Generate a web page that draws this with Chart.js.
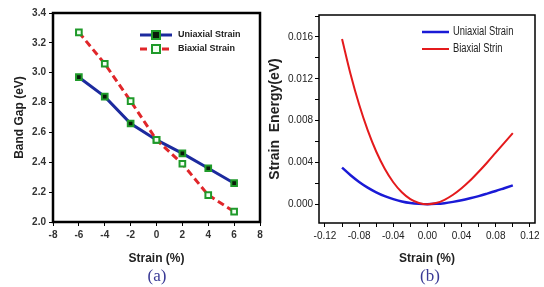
<!DOCTYPE html>
<html>
<head>
<meta charset="utf-8">
<script src="https://cdn.jsdelivr.net/npm/chart.js@4.4.1/dist/chart.umd.min.js"></script>
<style>
  body { margin: 0; background: #fff; width: 544px; height: 287px; position: relative; overflow: hidden; }
  .pane { position: absolute; top: 0; }
  #paneA { left: 0; }
  #paneB { left: 266px; }
  .cap { position: absolute; top: 266px; width: 40px; text-align: center;
         font: 17px "Liberation Serif", "Times New Roman", serif; color: #3a3a96; }
</style>
</head>
<body>
<div class="pane" id="paneA"><canvas id="chartA" width="272" height="270"></canvas></div>
<div class="pane" id="paneB"><canvas id="chartB" width="278" height="270"></canvas></div>
<div class="cap" style="left:137px">(a)</div>
<div class="cap" style="left:410px">(b)</div>
<script>
// (a) band gap vs strain
const strainA = [-6, -4, -2, 0, 2, 4, 6];
const uniaxialGap = [2.97, 2.84, 2.66, 2.55, 2.46, 2.36, 2.26];
const biaxialGap = [3.27, 3.06, 2.81, 2.55, 2.39, 2.18, 2.07];
const ticksA_x = [-8, -6, -4, -2, 0, 2, 4, 6, 8];

// (b) strain energy vs strain
const strainB = [-0.10, -0.09, -0.08, -0.07, -0.06, -0.05, -0.04, -0.03, -0.02, -0.01, 0,
                 0.01, 0.02, 0.03, 0.04, 0.05, 0.06, 0.07, 0.08, 0.09, 0.10];
const uniaxialEnergy = [0.0035, 0.00277, 0.00213, 0.00159, 0.00114, 0.00077, 0.00048, 0.00026, 0.00011, 0.00003, 0,
                        0.00003, 0.0001, 0.00022, 0.00037, 0.00056, 0.00077, 0.00101, 0.00126, 0.00153, 0.0018];
const biaxialEnergy = [0.0158, 0.01243, 0.00953, 0.00708, 0.00504, 0.00339, 0.0021, 0.00114, 0.00049, 0.00012, 0,
                       0.00011, 0.00042, 0.0009, 0.00152, 0.00226, 0.0031, 0.00399, 0.00493, 0.00587, 0.0068];
const ticksB_x = [-0.12, -0.08, -0.04, 0, 0.04, 0.08, 0.12];
const minorB_x = [-0.10, -0.06, -0.02, 0.02, 0.06, 0.10];
const ticksB_y = [0, 0.004, 0.008, 0.012, 0.016];
const minorB_y = [0.002, 0.006, 0.010, 0.014, 0.018];

const SANS = "'Liberation Sans', Arial, sans-serif";

// black box round the plot area
const framePlugin = {
  id: 'frame',
  afterDraw(chart, args, opts) {
    const a = chart.chartArea, ctx = chart.ctx;
    ctx.save();
    ctx.strokeStyle = '#000';
    ctx.lineWidth = opts.width;
    ctx.strokeRect(a.left, a.top, a.right - a.left, a.bottom - a.top);
    ctx.restore();
  }
};

// legend drawn inside the plot
const boxLegend = {
  id: 'boxLegend',
  afterDatasetsDraw(chart, args, o) {
    const ctx = chart.ctx;
    chart.data.datasets.forEach((ds, i) => {
      const y = o.y + i * o.gap;
      ctx.save();
      ctx.strokeStyle = ds.borderColor;
      ctx.lineWidth = ds.borderWidth;
      ctx.setLineDash(ds.borderDash || []);
      ctx.beginPath();
      ctx.moveTo(o.x, y);
      ctx.lineTo(o.x + o.len, y);
      ctx.stroke();
      ctx.setLineDash([]);
      if (ds.pointRadius) {
        const r = ds.pointRadius, mx = o.x + o.len / 2;
        ctx.fillStyle = ds.pointBackgroundColor;
        ctx.fillRect(mx - r, y - r, 2 * r, 2 * r);
        ctx.lineWidth = ds.pointBorderWidth;
        ctx.strokeStyle = ds.pointBorderColor;
        ctx.strokeRect(mx - r, y - r, 2 * r, 2 * r);
      }
      ctx.fillStyle = '#222';
      ctx.font = o.font;
      ctx.textBaseline = 'middle';
      ctx.translate(o.x + o.len + o.pad, y);
      ctx.scale(o.sx || 1, 1);
      ctx.fillText(ds.label, 0, 0);
      ctx.restore();
    });
  }
};

new Chart(document.getElementById('chartA'), {
  type: 'line',
  data: {
    datasets: [{
      label: 'Uniaxial Strain',
      data: strainA.map((x, i) => ({ x: x, y: uniaxialGap[i] })),
      borderColor: '#1c2a9e',
      borderWidth: 3,
      pointStyle: 'rect',
      pointRadius: 4,
      pointBackgroundColor: '#0a1a0a',
      pointBorderColor: '#1f9a2a',
      pointBorderWidth: 2,
      order: 1
    }, {
      label: 'Biaxial Strain',
      data: strainA.map((x, i) => ({ x: x, y: biaxialGap[i] })),
      borderColor: '#e0262a',
      borderWidth: 3,
      borderDash: [7, 4],
      pointStyle: 'rect',
      pointRadius: 4,
      pointBackgroundColor: '#f4fff4',
      pointBorderColor: '#1f9a2a',
      pointBorderWidth: 2,
      order: 0
    }]
  },
  options: {
    responsive: false,
    animation: false,
    layout: { padding: { left: 8, top: 13, right: 12, bottom: 0 } },
    plugins: {
      legend: { display: false },
      tooltip: { enabled: false },
      frame: { width: 2.5 },
      boxLegend: { x: 140, y: 35, gap: 14, len: 32, pad: 6, font: 'bold 9px ' + SANS }
    },
    scales: {
      x: {
        type: 'linear', min: -8, max: 8,
        afterBuildTicks: s => { s.ticks = ticksA_x.map(v => ({ value: v })); },
        afterFit: s => { s.height = 48; },
        ticks: { color: '#333', font: { family: SANS, size: 10, weight: 'bold' }, padding: 3 },
        grid: { drawOnChartArea: false, tickLength: 4, color: '#000' },
        border: { display: false },
        title: { display: true, text: 'Strain (%)', color: '#222', font: { family: SANS, size: 12, weight: 'bold' }, padding: { top: 2, bottom: 4 } }
      },
      y: {
        min: 2.0, max: 3.4,
        afterFit: s => { s.width = 45; },
        ticks: { stepSize: 0.2, color: '#333', font: { family: SANS, size: 10, weight: 'bold' }, padding: 3,
                 callback: v => v.toFixed(1) },
        grid: { drawOnChartArea: false, tickLength: 4, color: '#000' },
        border: { display: false },
        title: { display: true, text: 'Band Gap (eV)', color: '#222', font: { family: SANS, size: 12, weight: 'bold' }, padding: 4 }
      }
    }
  },
  plugins: [framePlugin, boxLegend]
});

new Chart(document.getElementById('chartB'), {
  type: 'line',
  data: {
    datasets: [{
      label: 'Uniaxial Strain',
      data: strainB.map((x, i) => ({ x: x, y: uniaxialEnergy[i] })),
      borderColor: '#1a1ad6',
      borderWidth: 2.5,
      pointRadius: 0,
      cubicInterpolationMode: 'monotone',
      order: 1
    }, {
      label: 'Biaxial Strin',
      data: strainB.map((x, i) => ({ x: x, y: biaxialEnergy[i] })),
      borderColor: '#e41a1c',
      borderWidth: 2,
      pointRadius: 0,
      cubicInterpolationMode: 'monotone',
      order: 0
    }]
  },
  options: {
    responsive: false,
    animation: false,
    layout: { padding: { left: 0, top: 15, right: 9, bottom: 0 } },
    plugins: {
      legend: { display: false },
      tooltip: { enabled: false },
      frame: { width: 1.5 },
      boxLegend: { x: 156, y: 32, gap: 17, len: 27, pad: 4, font: '12px ' + SANS, sx: 0.78 }
    },
    scales: {
      x: {
        type: 'linear', min: -0.127, max: 0.126,
        afterBuildTicks: s => { s.ticks = ticksB_x.concat(minorB_x).map(v => ({ value: v })); },
        afterFit: s => { s.height = 47; },
        ticks: { color: '#222', font: { family: SANS, size: 10 }, padding: 3, autoSkip: false, maxRotation: 0,
                 callback: v => ticksB_x.some(t => Math.abs(t - v) < 1e-9) ? v.toFixed(2) : '' },
        grid: { drawOnChartArea: false, tickLength: 4, color: '#000' },
        border: { display: false },
        title: { display: true, text: 'Strain (%)', color: '#222', font: { family: SANS, size: 12, weight: 'bold' }, padding: { top: 2, bottom: 4 } }
      },
      y: {
        min: -0.0018, max: 0.0181,
        afterBuildTicks: s => { s.ticks = ticksB_y.concat(minorB_y).map(v => ({ value: v })); },
        afterFit: s => { s.width = 53; },
        ticks: { color: '#222', font: { family: SANS, size: 10 }, padding: 2, autoSkip: false,
                 callback: v => ticksB_y.some(t => Math.abs(t - v) < 1e-9) ? v.toFixed(3) : '' },
        grid: { drawOnChartArea: false, tickLength: 4, color: '#000' },
        border: { display: false },
        title: { display: true, text: 'Strain  Energy(eV)', color: '#222', font: { family: SANS, size: 14, weight: 'bold' }, padding: 1 }
      }
    }
  },
  plugins: [framePlugin, boxLegend]
});
</script>
</body>
</html>
